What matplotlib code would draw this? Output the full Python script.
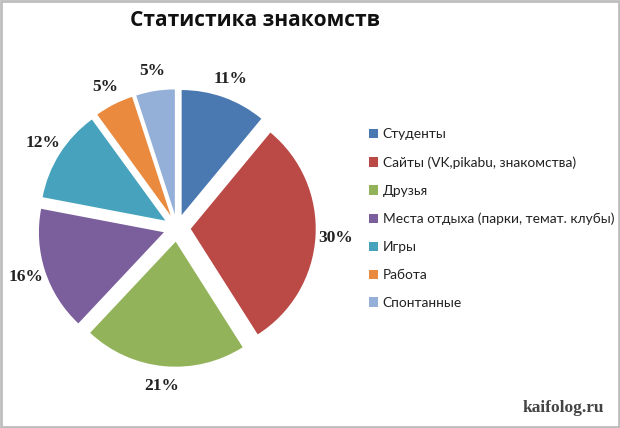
import matplotlib.pyplot as plt
from matplotlib.patches import Rectangle

# данные
labels = ['Студенты', 'Сайты (VK,pikabu, знакомства)', 'Друзья',
          'Места отдыха (парки, темат. клубы)', 'Игры', 'Работа', 'Спонтанные']
values = [11, 30, 21, 16, 12, 5, 5]
colors = ['#4a78b0', '#bb4a47', '#93b35a', '#7a5f9c', '#47a3bd', '#e98a3f', '#94afd8']

W, H = 620, 428
fig = plt.figure(figsize=(W / 100, H / 100), dpi=100)

# круговая диаграмма
cx, cy, half = 177, 228, 170
ax = fig.add_axes([(cx - half) / W, (H - cy - half) / H, 2 * half / W, 2 * half / H])
wedges, texts, autotexts = ax.pie(
    values, colors=colors, startangle=90, counterclock=False,
    explode=[0.11] * len(values), radius=1.0,
    autopct='%1.0f%%', pctdistance=1.16,
    textprops=dict(family='Liberation Serif', weight='bold', fontsize=12.5, color='#222222'))
ax.set_xlim(-half / 125, half / 125)
ax.set_ylim(-half / 125, half / 125)
ax.set_aspect('equal')
ax.axis('off')

# заголовок
fig.text(255 / W, 1 - 20 / H, 'Статистика знакомств', ha='center', va='center',
         family='Open Sans', weight='bold', fontsize=15, color='#111111')

# легенда
leg = fig.legend(wedges, labels, loc='upper left', bbox_to_anchor=(357 / W, 1 - 116 / H),
                 frameon=False, handlelength=0.65, handleheight=0.65, handletextpad=0.3,
                 labelspacing=1.15, prop=dict(family='Lato', size=9.95))
for t in leg.get_texts():
    t.set_color('#222222')

# подпись сайта
fig.text(604 / W, 1 - 408 / H, 'kaifolog.ru', ha='right', va='center',
         family='Liberation Serif', weight='bold', fontsize=12.5, color='#444444')

# рамка
fig.patches.append(Rectangle((0.002, 0.003), 0.996, 0.994, transform=fig.transFigure,
                             fill=False, edgecolor='#bdbdbd', linewidth=2))

fig.savefig('out.png', dpi=100)
